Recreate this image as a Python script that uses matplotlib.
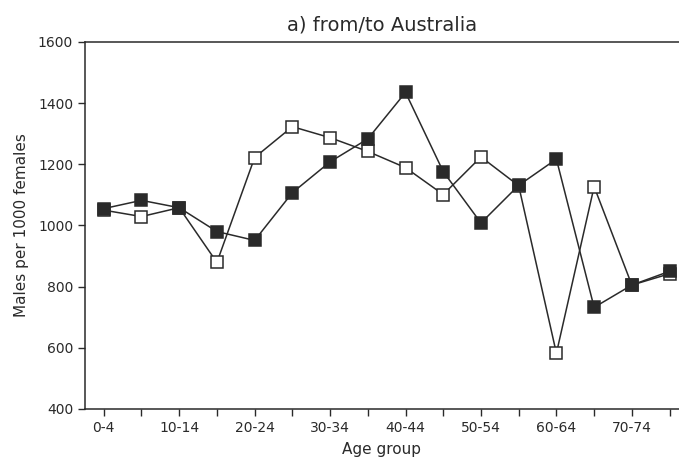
import matplotlib
matplotlib.use('Agg')
import matplotlib.pyplot as plt

grupos = ['0-4', '5-9', '10-14', '15-19', '20-24', '25-29', '30-34', '35-39',
          '40-44', '45-49', '50-54', '55-59', '60-64', '65-69', '70-74', '75+']
cheios = [1055, 1082, 1058, 980, 951, 1107, 1208, 1283, 1435, 1176, 1008,
          1131, 1217, 732, 805, 850]
vazios = [1050, 1029, 1058, 879, 1222, 1323, 1287, 1242, 1189, 1101, 1224,
          1130, 582, 1127, 805, 842]

fig = plt.figure(figsize=(6.79, 4.61), dpi=100)
ax = fig.add_axes([0.125, 0.113, 0.875, 0.796])

x = list(range(len(grupos)))
cor = '#2a2a2a'
ax.plot(x, vazios, color=cor, lw=1.1, marker='s', ms=8,
        mfc='white', mec=cor, mew=1.1)
ax.plot(x, cheios, color=cor, lw=1.1, marker='s', ms=8,
        mfc=cor, mec=cor, mew=1.1)

ax.set_xlim(-0.5, 15.25)
ax.set_ylim(400, 1600)
ax.set_yticks(range(400, 1601, 200))
ax.set_xticks(x)
ax.set_xticklabels([g if i % 2 == 0 else '' for i, g in enumerate(grupos)])
ax.tick_params(direction='out', length=5, width=1, colors=cor, labelsize=10)
for s in ['left', 'bottom', 'top']:
    ax.spines[s].set_color(cor)
    ax.spines[s].set_linewidth(1.1)
ax.spines['right'].set_visible(False)

ax.set_xlabel('Age group', fontsize=11, color=cor, labelpad=5)
ax.set_ylabel('Males per 1000 females', fontsize=11, color=cor, labelpad=6)
ax.set_title('a) from/to Australia', fontsize=14, color=cor, pad=8)

plt.savefig('out.png', dpi=100)
